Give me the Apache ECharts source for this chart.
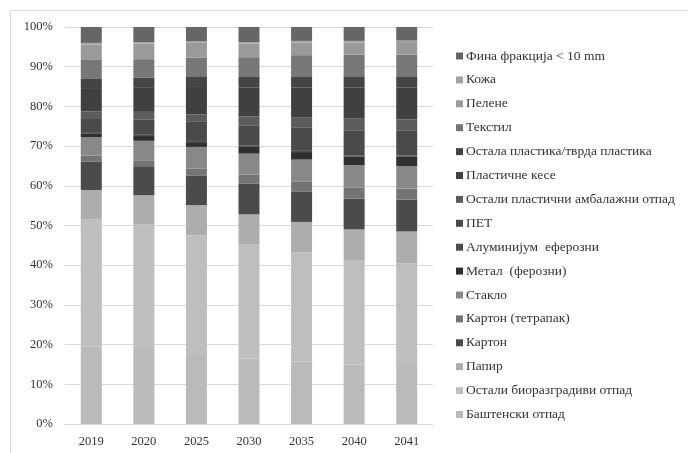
<!DOCTYPE html>
<html>
<head>
<meta charset="utf-8">
<script src="https://cdn.jsdelivr.net/npm/echarts@6/dist/echarts.min.js"></script>
<style>
html,body{margin:0;padding:0;background:#fff;}
#chart{width:688px;height:453px;}
</style>
</head>
<body>
<div id="chart"></div>
<script>
const categories = ['2019', '2020', '2025', '2030', '2035', '2040', '2041'];
const yTickLabels = ['0%', '10%', '20%', '30%', '40%', '50%', '60%', '70%', '80%', '90%', '100%'];

// values (percent), bottom of stack first
const bastenski   = [19.5, 18.6, 17.4, 16.5, 15.7, 14.9, 14.6];
const ostaliBio   = [32.2, 31.6, 30.1, 28.7, 27.5, 26.2, 25.9];
const papir       = [7.3, 7.4, 7.6, 7.6, 7.7, 7.9, 8.0];
const karton      = [7.2, 7.3, 7.4, 7.7, 7.7, 7.8, 8.0];
const tetrapak    = [1.5, 1.5, 1.8, 2.3, 2.4, 2.7, 2.8];
const staklo      = [4.6, 4.9, 5.5, 5.3, 5.6, 5.7, 5.6];
const metal       = [1.0, 1.2, 1.2, 1.7, 1.9, 2.2, 2.4];
const aluminijum  = [0.3, 0.3, 0.3, 0.3, 0.3, 0.3, 0.3];
const pet         = [3.3, 3.9, 4.8, 5.0, 5.8, 6.3, 6.4];
const ostaliPlAmb = [1.9, 2.1, 1.9, 2.4, 2.7, 2.9, 2.7];
const kese        = [5.9, 6.0, 6.9, 7.3, 7.5, 7.9, 8.1];
const ostalaPl    = [2.3, 2.35, 2.5, 2.6, 2.6, 2.6, 2.6];
const tekstil     = [4.8, 4.7, 4.9, 5.0, 5.5, 5.6, 5.6];
const pelene      = [3.9, 3.9, 3.7, 3.4, 3.2, 3.1, 3.2];
const koza        = [0.4, 0.4, 0.4, 0.4, 0.4, 0.4, 0.4];
const fina        = [4.0, 3.8, 3.6, 3.8, 3.5, 3.5, 3.4];

const seriesNames = [
  'Баштенски отпад', 'Остали биоразградиви отпад', 'Папир', 'Картон',
  'Картон (тетрапак)', 'Стакло', 'Метал  (ферозни)', 'Алуминијум  еферозни',
  'ПЕТ', 'Остали пластични амбалажни отпад', 'Пластичне кесе',
  'Остала пластика/тврда пластика', 'Текстил', 'Пелене', 'Кожа', 'Фина фракција < 10 mm'
];
const seriesValues = [bastenski, ostaliBio, papir, karton, tetrapak, staklo, metal, aluminijum,
  pet, ostaliPlAmb, kese, ostalaPl, tekstil, pelene, koza, fina];
const seriesColors = ['#bababa', '#bebebe', '#adadad', '#4b4b4b', '#747474', '#888888', '#2f2f2f', '#4d4d4d',
  '#4a4a4a', '#5c5c5c', '#404040', '#444444', '#777777', '#9a9a9a', '#a2a2a2', '#666666'];

// 100% stacking: normalise each category to its total
const totals = categories.map((c, i) => seriesValues.reduce((s, arr) => s + arr[i], 0));

const font = 'Liberation Serif';
const chart = echarts.init(document.getElementById('chart'));
chart.setOption({
  animation: false,
  backgroundColor: '#ffffff',
  textStyle: { fontFamily: font },
  graphic: [{
    type: 'rect', silent: true, z: -1,
    shape: { x: 10.5, y: 10.5, width: 700, height: 470 },
    style: { fill: 'none', stroke: '#d9d9d9', lineWidth: 1 }
  }],
  grid: { left: 65, right: 255, top: 27, bottom: 29, containLabel: false },
  legend: {
    orient: 'vertical',
    left: 456, top: 49, padding: 0,
    itemWidth: 7, itemHeight: 7, itemGap: 9.9,
    icon: 'rect',
    data: seriesNames.slice().reverse(),
    textStyle: { fontFamily: font, fontSize: 13.5, color: '#333', lineHeight: 14, padding: [0, 0, 0, -2] }
  },
  xAxis: {
    type: 'category',
    data: categories,
    axisLine: { show: true, lineStyle: { color: '#d9d9d9' } },
    axisTick: { show: false },
    axisLabel: { fontFamily: font, fontSize: 12.5, color: '#333', margin: 11 }
  },
  yAxis: {
    type: 'value',
    min: 0, max: 100, interval: 10,
    axisLine: { show: false },
    axisTick: { show: false },
    splitLine: { lineStyle: { color: '#d9d9d9' } },
    axisLabel: {
      fontFamily: font, fontSize: 12.5, color: '#333', margin: 12,
      formatter: (v) => yTickLabels[Math.round(v / 10)]
    }
  },
  series: seriesNames.map((name, k) => ({
    name: name,
    type: 'bar',
    stack: 'total',
    barWidth: 21,
    itemStyle: { color: seriesColors[k], borderWidth: 0 },
    data: seriesValues[k].map((v, i) => v / totals[i] * 100)
  }))
});
</script>
</body>
</html>
